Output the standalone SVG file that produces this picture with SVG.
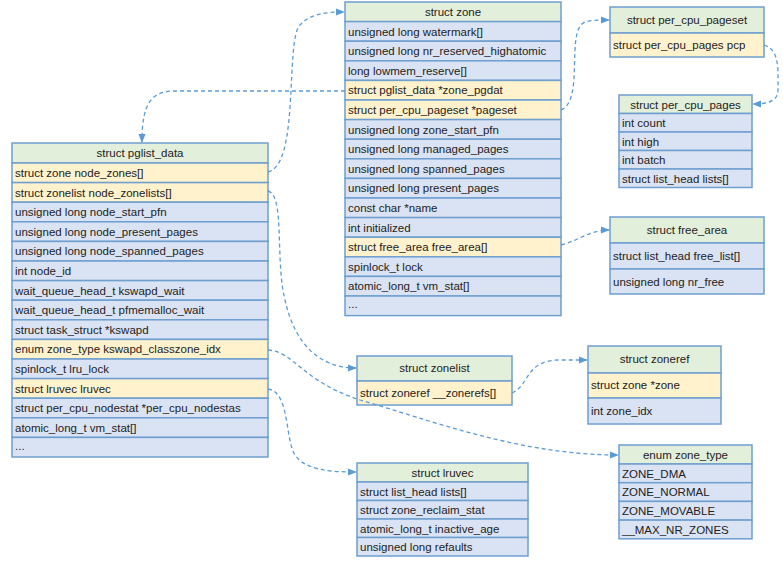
<svg xmlns="http://www.w3.org/2000/svg" width="783" height="561" viewBox="0 0 783 561">
<defs>
<style>
.h{fill:#e2efda;stroke:#6f9fcf;stroke-width:1.5}
.r{fill:#dae3f3;stroke:#6f9fcf;stroke-width:1.5}
.y{fill:#fff2cc;stroke:#6f9fcf;stroke-width:1.5}
text{font-family:"Liberation Sans",Arial,sans-serif;font-size:11.5px;fill:#222}
.c{text-anchor:middle}
.l{fill:none;stroke:#5b9bd5;stroke-width:1.3;stroke-dasharray:4 3;marker-end:url(#a)}
</style>
<marker id="a" viewBox="0 0 10 10" refX="9" refY="5" markerWidth="7" markerHeight="7" orient="auto"><path d="M0,1 L10,5 L0,9 z" fill="#5b9bd5"/></marker>
</defs>
<rect width="783" height="561" fill="#fff"/>
<g id="pglist_data">
<rect class="h" x="12" y="143" width="256" height="20"/><text class="c" x="140" y="157">struct pglist_data</text>
<rect class="y" x="12" y="163" width="256" height="19.6"/><text x="15" y="177">struct zone node_zones[]</text>
<rect class="y" x="12" y="182.6" width="256" height="19.6"/><text x="15" y="196.6">struct zonelist node_zonelists[]</text>
<rect class="r" x="12" y="202.2" width="256" height="19.6"/><text x="15" y="216.2">unsigned long node_start_pfn</text>
<rect class="r" x="12" y="221.8" width="256" height="19.6"/><text x="15" y="235.8">unsigned long node_present_pages</text>
<rect class="r" x="12" y="241.4" width="256" height="19.6"/><text x="15" y="255.4">unsigned long node_spanned_pages</text>
<rect class="r" x="12" y="261" width="256" height="19.6"/><text x="15" y="275">int node_id</text>
<rect class="r" x="12" y="280.6" width="256" height="19.6"/><text x="15" y="294.6">wait_queue_head_t kswapd_wait</text>
<rect class="r" x="12" y="300.2" width="256" height="19.6"/><text x="15" y="314.2">wait_queue_head_t pfmemalloc_wait</text>
<rect class="r" x="12" y="319.8" width="256" height="19.6"/><text x="15" y="333.8">struct task_struct *kswapd</text>
<rect class="y" x="12" y="339.4" width="256" height="19.6"/><text x="15" y="353.4">enum zone_type kswapd_classzone_idx</text>
<rect class="r" x="12" y="359" width="256" height="19.6"/><text x="15" y="373">spinlock_t lru_lock</text>
<rect class="y" x="12" y="378.6" width="256" height="19.6"/><text x="15" y="392.6">struct lruvec lruvec</text>
<rect class="r" x="12" y="398.2" width="256" height="19.6"/><text x="15" y="412.2">struct per_cpu_nodestat *per_cpu_nodestas</text>
<rect class="r" x="12" y="417.8" width="256" height="19.6"/><text x="15" y="431.8">atomic_long_t vm_stat[]</text>
<rect class="r" x="12" y="437.4" width="256" height="19.6"/><text x="15" y="450">...</text>
</g>
<g id="zone">
<rect class="h" x="345" y="2" width="216" height="19.6"/><text class="c" x="453" y="16">struct zone</text>
<rect class="r" x="345" y="21.6" width="216" height="19.6"/><text x="348" y="35.6">unsigned long watermark[]</text>
<rect class="r" x="345" y="41.2" width="216" height="19.6"/><text x="348" y="55.2">unsigned long nr_reserved_highatomic</text>
<rect class="r" x="345" y="60.8" width="216" height="19.6"/><text x="348" y="74.8">long lowmem_reserve[]</text>
<rect class="y" x="345" y="80.4" width="216" height="19.6"/><text x="348" y="94.4">struct pglist_data *zone_pgdat</text>
<rect class="y" x="345" y="100" width="216" height="19.6"/><text x="348" y="114">struct per_cpu_pageset *pageset</text>
<rect class="r" x="345" y="119.6" width="216" height="19.6"/><text x="348" y="133.6">unsigned long zone_start_pfn</text>
<rect class="r" x="345" y="139.2" width="216" height="19.6"/><text x="348" y="153.2">unsigned long managed_pages</text>
<rect class="r" x="345" y="158.8" width="216" height="19.6"/><text x="348" y="172.8">unsigned long spanned_pages</text>
<rect class="r" x="345" y="178.4" width="216" height="19.6"/><text x="348" y="192.4">unsigned long present_pages</text>
<rect class="r" x="345" y="198" width="216" height="19.6"/><text x="348" y="212">const char *name</text>
<rect class="r" x="345" y="217.6" width="216" height="19.6"/><text x="348" y="231.6">int initialized</text>
<rect class="y" x="345" y="237.2" width="216" height="19.6"/><text x="348" y="251.2">struct free_area free_area[]</text>
<rect class="r" x="345" y="256.8" width="216" height="19.6"/><text x="348" y="270.8">spinlock_t lock</text>
<rect class="r" x="345" y="276.4" width="216" height="19.6"/><text x="348" y="290.4">atomic_long_t vm_stat[]</text>
<rect class="r" x="345" y="296" width="216" height="19.6"/><text x="348" y="308">...</text>
</g>
<g id="per_cpu_pageset">
<rect class="h" x="610" y="7" width="154" height="26"/><text class="c" x="687" y="24">struct per_cpu_pageset</text>
<rect class="y" x="610" y="33" width="154" height="24"/><text x="613" y="49">struct per_cpu_pages pcp</text>
</g>
<g id="per_cpu_pages">
<rect class="h" x="619" y="95" width="133" height="18.5"/><text class="c" x="685.5" y="108.5">struct per_cpu_pages</text>
<rect class="r" x="619" y="113.5" width="133" height="18.5"/><text x="622" y="127">int count</text>
<rect class="r" x="619" y="132" width="133" height="18.5"/><text x="622" y="145.5">int high</text>
<rect class="r" x="619" y="150.5" width="133" height="18.5"/><text x="622" y="164">int batch</text>
<rect class="r" x="619" y="169" width="133" height="18.5"/><text x="622" y="182.5">struct list_head lists[]</text>
</g>
<g id="free_area">
<rect class="h" x="610" y="217" width="154" height="26"/><text class="c" x="687" y="234">struct free_area</text>
<rect class="r" x="610" y="243" width="154" height="26"/><text x="613" y="260">struct list_head free_list[]</text>
<rect class="r" x="610" y="269" width="154" height="25"/><text x="613" y="286">unsigned long nr_free</text>
</g>
<g id="zonelist">
<rect class="h" x="357" y="356" width="155" height="25"/><text class="c" x="434.5" y="372">struct zonelist</text>
<rect class="y" x="357" y="381" width="155" height="24"/><text x="360" y="397">struct zoneref __zonerefs[]</text>
</g>
<g id="zoneref">
<rect class="h" x="588" y="346" width="133" height="27"/><text class="c" x="654.5" y="363">struct zoneref</text>
<rect class="y" x="588" y="373" width="133" height="25"/><text x="591" y="389">struct zone *zone</text>
<rect class="r" x="588" y="398" width="133" height="26"/><text x="591" y="415">int zone_idx</text>
</g>
<g id="zone_type">
<rect class="h" x="619" y="445" width="133" height="19"/><text class="c" x="685.5" y="459">enum zone_type</text>
<rect class="r" x="619" y="464" width="133" height="18.7"/><text x="622" y="477.5">ZONE_DMA</text>
<rect class="r" x="619" y="482.7" width="133" height="18.7"/><text x="622" y="496.2">ZONE_NORMAL</text>
<rect class="r" x="619" y="501.4" width="133" height="18.7"/><text x="622" y="514.9">ZONE_MOVABLE</text>
<rect class="r" x="619" y="520.1" width="133" height="18.7"/><text x="622" y="533.6">__MAX_NR_ZONES</text>
</g>
<g id="lruvec">
<rect class="h" x="357" y="463" width="171" height="19"/><text class="c" x="442.5" y="477">struct lruvec</text>
<rect class="r" x="357" y="482" width="171" height="18.5"/><text x="360" y="495.5">struct list_head lists[]</text>
<rect class="r" x="357" y="500.5" width="171" height="18.5"/><text x="360" y="514">struct zone_reclaim_stat</text>
<rect class="r" x="357" y="519" width="171" height="18.5"/><text x="360" y="532.5">atomic_long_t inactive_age</text>
<rect class="r" x="357" y="537.5" width="171" height="18.5"/><text x="360" y="551">unsigned long refaults</text>
</g>
<g id="connectors">
<path class="l" d="M268,172 C300,165 285,40 300,25 C310,14 325,12 344,12"/>
<path class="l" d="M345,91 L175,91 C150,91 142,105 142,142"/>
<path class="l" d="M561,110 C585,100 565,30 585,22 C592,20 600,20 609,20"/>
<path class="l" d="M764,45 C780,50 778,70 778,90 C778,100 770,104 753,104"/>
<path class="l" d="M561,245 C580,240 590,230 609,230"/>
<path class="l" d="M268,191 C285,195 275,260 285,300 C295,345 320,368 356,368"/>
<path class="l" d="M512,393 C530,385 525,360 560,360 L587,360"/>
<path class="l" d="M268,350 C295,352 300,380 360,400 C430,420 520,455 618,455"/>
<path class="l" d="M268,389 C290,392 285,440 295,455 C305,470 330,472 356,472"/>
</g>
</svg>
